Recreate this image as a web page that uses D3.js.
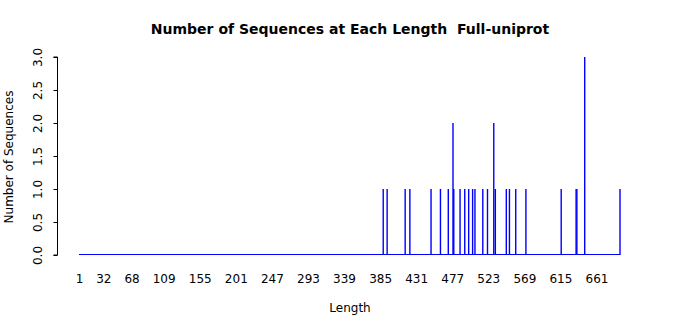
<!DOCTYPE html>
<html>
<head>
<meta charset="utf-8">
<script src="https://cdn.jsdelivr.net/npm/d3@7"></script>
<style>
  body { margin: 0; background: #fff; }
  svg text { font-family: "DejaVu Sans", sans-serif; fill: #000; }
</style>
</head>
<body>
<script>
// lengths that have at least one sequence, and how many
var lengths = [389, 394, 417, 423, 450, 462, 472, 478, 479, 487, 493, 498, 503, 506,
               516, 522, 530, 532, 546, 550, 558, 571, 616, 635, 636, 646, 691];
var counts  = [1, 1, 1, 1, 1, 1, 1, 2, 1, 1, 1, 1, 1, 1,
               1, 1, 2, 1, 1, 1, 1, 1, 1, 1, 1, 3, 1];
var lengthRange = [1, 691];
var xTicks = [1, 32, 68, 109, 155, 201, 247, 293, 339, 385, 431, 477, 523, 569, 615, 661];
var yTicks = [0, 0.5, 1, 1.5, 2, 2.5, 3];

var width = 700, height = 315;

var svg = d3.select("body").append("svg")
    .attr("width", width)
    .attr("height", height);

var xScale = d3.scaleLinear()
    .domain(lengthRange)
    .range([79, 620]);

var yScale = d3.scaleLinear()
    .domain([0, 3])
    .range([255, 57]);

// zero-count lengths show up as a flat line along the bottom
svg.append("line")
    .attr("x1", xScale(lengthRange[0]))
    .attr("x2", xScale(lengthRange[1]))
    .attr("y1", yScale(0) - 0.5)
    .attr("y2", yScale(0) - 0.5)
    .attr("stroke", "#0000ff")
    .attr("stroke-width", 1);

var data = lengths.map((d, i) => [d, counts[i]]);

svg.selectAll("rect.bar")
    .data(data)
    .enter()
    .append("rect")
    .attr("class", "bar")
    .attr("x", d => xScale(d[0]) - 0.7)
    .attr("y", d => yScale(d[1]))
    .attr("width", 1.4)
    .attr("height", d => yScale(0) - yScale(d[1]))
    .attr("fill", "#0000ff");

// y axis, offset to the left, labels turned on their side
var yAxis = d3.axisLeft(yScale)
    .tickValues(yTicks)
    .tickSize(4)
    .tickFormat(d3.format(".1f"));

var gy = svg.append("g")
    .attr("transform", "translate(57.5,0)")
    .call(yAxis);
gy.select(".domain").attr("stroke", "#000").attr("d", "M-4," + yScale(3) + "H0V" + yScale(0) + "H-4");
gy.selectAll(".tick line").attr("stroke", "#000");
gy.selectAll(".tick text")
    .attr("x", null).attr("dy", null)
    .attr("transform", "translate(-16,0) rotate(-90)")
    .attr("text-anchor", "middle")
    .style("font-size", "12px");

// x axis: labels only
var xAxis = d3.axisBottom(xScale)
    .tickValues(xTicks)
    .tickSize(0);

var gx = svg.append("g")
    .attr("transform", "translate(0,271)")
    .call(xAxis);
gx.select(".domain").remove();
gx.selectAll(".tick text")
    .attr("dy", "0.71em")
    .style("font-size", "12px");

svg.append("text")
    .attr("x", 350)
    .attr("y", 34)
    .attr("text-anchor", "middle")
    .attr("xml:space", "preserve")
    .style("white-space", "pre")
    .style("font-size", "14px")
    .style("font-weight", "bold")
    .text("Number of Sequences at Each Length  Full-uniprot");

svg.append("text")
    .attr("x", 350)
    .attr("y", 312)
    .attr("text-anchor", "middle")
    .style("font-size", "12px")
    .text("Length");

svg.append("text")
    .attr("transform", "translate(13," + 157 + ") rotate(-90)")
    .attr("text-anchor", "middle")
    .style("font-size", "12px")
    .text("Number of Sequences");
</script>
</body>
</html>
